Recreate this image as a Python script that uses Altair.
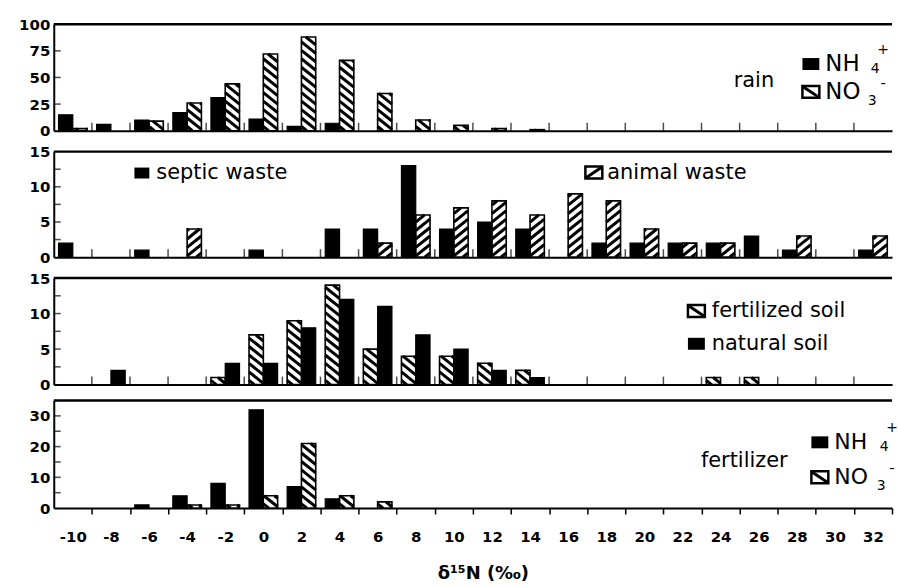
import altair as alt
import pandas as pd

# delta-15N class centres (permil)
bins = list(range(-10, 33, 2))

# number of samples per class
rain_nh4 = [15, 6, 10, 17, 31, 11, 4, 7, 0, 0, 0, 0, 0, 0, 0, 0, 0, 0, 0, 0, 0, 0]
rain_no3 = [2, 0, 9, 26, 44, 72, 88, 66, 35, 10, 5, 2, 1, 0, 0, 0, 0, 0, 0, 0, 0, 0]
septic_waste = [2, 0, 1, 0, 0, 1, 0, 4, 4, 13, 4, 5, 4, 0, 2, 2, 2, 2, 3, 1, 0, 1]
animal_waste = [0, 0, 0, 4, 0, 0, 0, 0, 2, 6, 7, 8, 6, 9, 8, 4, 2, 2, 0, 3, 0, 3]
fertilized_soil = [0, 0, 0, 0, 1, 7, 9, 14, 5, 4, 4, 3, 2, 0, 0, 0, 0, 1, 1, 0, 0, 0]
natural_soil = [0, 2, 0, 0, 3, 3, 8, 12, 11, 7, 5, 2, 1, 0, 0, 0, 0, 0, 0, 0, 0, 0]
fert_nh4 = [0, 0, 1, 4, 8, 32, 7, 3, 0, 0, 0, 0, 0, 0, 0, 0, 0, 0, 0, 0, 0, 0]
fert_no3 = [0, 0, 0, 1, 1, 4, 21, 4, 2, 0, 0, 0, 0, 0, 0, 0, 0, 0, 0, 0, 0, 0]

X_MIN, X_MAX = -11, 33
W = 842
HALF = 0.75          # width of one bar of a pair, in permil
KX = W / (X_MAX - X_MIN)
FONT = "DejaVu Sans"
ODD_TICKS = list(range(-9, 32, 2))
ONE = alt.Data(values=[{}])

xscale = alt.Scale(domain=[X_MIN, X_MAX], nice=False, zero=False)


def hatch_segments(x0, x1, v, ky, slant, period=8.5, slope=0.8):
    """Diagonal hatch lines clipped to the bar [x0, x1] x [0, v]."""
    w = (x1 - x0) * KX
    hmax = v * ky
    out = []
    if slant == "\\":
        c = period / 2
        while c < hmax + slope * w:
            xa = max(0.0, (c - hmax) / slope)
            xb = min(w, c / slope)
            if xb - xa > 0.3:
                out.append(dict(hx=x0 + xa / KX, hx2=x0 + xb / KX,
                                hy=(c - slope * xa) / ky, hy2=(c - slope * xb) / ky))
            c += period
    else:
        c = -slope * w + period / 2
        while c < hmax:
            xa = max(0.0, -c / slope)
            xb = min(w, (hmax - c) / slope)
            if xb - xa > 0.3:
                out.append(dict(hx=x0 + xa / KX, hx2=x0 + xb / KX,
                                hy=(c + slope * xa) / ky, hy2=(c + slope * xb) / ky))
            c += period
    return out


def txt(s, x, y, size=21, align="left", baseline="middle"):
    return alt.Chart(ONE).mark_text(
        text=s, font=FONT, fontSize=size, align=align, baseline=baseline, color="black"
    ).encode(x=alt.value(x), y=alt.value(y))


def solid_key(x, y, w=17, h=12):
    return alt.Chart(ONE).mark_rect(color="black").encode(
        x=alt.value(x), x2=alt.value(x + w), y=alt.value(y), y2=alt.value(y + h))


def hatch_key(x, y, slant, w=17, h=12):
    box = alt.Chart(ONE).mark_rect(fill="white", stroke="black", strokeWidth=2.5).encode(
        x=alt.value(x), x2=alt.value(x + w), y=alt.value(y), y2=alt.value(y + h))
    if slant == "\\":
        ya, yb = y + 1, y + h - 1
    else:
        ya, yb = y + h - 1, y + 1
    diag = alt.Chart(ONE).mark_rule(color="black", strokeWidth=3).encode(
        x=alt.value(x + 1), x2=alt.value(x + w - 1), y=alt.value(ya), y2=alt.value(yb))
    return box + diag


def ion_key(x, y_nh, y_no, size=22):
    """Legend rows for NH4+ (solid) and NO3- (hatched)."""
    return [
        solid_key(x, y_nh - 6), txt("NH", x + 23, y_nh, size),
        txt("4", x + 73, y_nh + 5, 14, "center"), txt("+", x + 81, y_nh - 14, 14, "center"),
        hatch_key(x, y_no - 6, "\\"), txt("NO", x + 23, y_no, size),
        txt("3", x + 70, y_no + 9, 14, "center"), txt("-", x + 81, y_no - 9, 15, "center"),
    ]


def panel(solid, hatched, hatch_first, slant, ymax, yvals, yminor, height, extras, bottom=False):
    ky = height / ymax
    yscale = alt.Scale(domain=[0, ymax], nice=False)
    yaxis = alt.Axis(values=yvals, ticks=False, labelPadding=4, domainWidth=2,
                     domainColor="black", labelFont=FONT, labelFontSize=15,
                     labelFontWeight="bold", labelColor="black", grid=False, title=None)
    if bottom:
        xaxis = alt.Axis(values=ODD_TICKS + [33], labelExpr="'' + (datum.value - 1)",
                         labelOffset=-KX, labelFlush=False, labelOverlap=False,
                         tickSize=6, tickWidth=1.5, tickColor="black", domainWidth=2,
                         domainColor="black", labelPadding=16, labelFont=FONT,
                         labelFontSize=15, labelFontWeight="bold", labelColor="black",
                         grid=False, title="δ¹⁵N (‰)", titleFont=FONT, titleFontSize=18,
                         titleFontWeight="bold", titleColor="black", titlePadding=20,
                         titleX=W / 2 + 10, titleAlign="center")
    else:
        xaxis = alt.Axis(labels=False, ticks=False, domainWidth=2, domainColor="black",
                         grid=False, title=None)

    rows = []
    segs = []
    for b, s, h in zip(bins, solid, hatched):
        hs, ss = (b - HALF, b) if hatch_first else (b, b - HALF)
        if s > 0:
            rows.append(dict(kind="solid", x0=ss, x1=ss + HALF, v=s, z=0))
        if h > 0:
            rows.append(dict(kind="hatch", x0=hs, x1=hs + HALF, v=h, z=0))
            segs += hatch_segments(hs, hs + HALF, h, ky, slant)
    df = pd.DataFrame(rows)

    X = lambda f: alt.X(f, type="quantitative", scale=xscale, axis=xaxis)
    Y = lambda f: alt.Y(f, type="quantitative", scale=yscale, axis=yaxis)

    base = alt.Chart(df)
    hatch_fill = base.transform_filter("datum.kind == 'hatch'").mark_rect(
        fill="white").encode(x=X("x0"), x2="x1", y=Y("v"), y2="z")
    lines = alt.Chart(pd.DataFrame(segs)).mark_rule(
        color="black", strokeWidth=3, strokeCap="butt").encode(
        x=X("hx"), x2="hx2", y=Y("hy"), y2="hy2")
    hatch_edge = base.transform_filter("datum.kind == 'hatch'").mark_rect(
        fill="white", fillOpacity=0, stroke="black", strokeWidth=1.6).encode(
        x=X("x0"), x2="x1", y=Y("v"), y2="z")
    solid_bars = base.transform_filter("datum.kind == 'solid'").mark_rect(
        color="black", stroke="black", strokeWidth=1.2).encode(
        x=X("x0"), x2="x1", y=Y("v"), y2="z")

    yticks = alt.Chart(pd.DataFrame({"t": yminor})).mark_tick(
        color="black", thickness=1.5, size=7).encode(y=Y("t"), x=alt.value(3.5))
    top = alt.Chart(ONE).mark_rule(color="black", strokeWidth=2.5).encode(
        x=alt.value(0), x2=alt.value(W), y=alt.value(0))

    layers = [hatch_fill, lines, hatch_edge, solid_bars, yticks, top]
    if not bottom:
        xticks = alt.Chart(pd.DataFrame({"t": ODD_TICKS})).mark_tick(
            color="black", thickness=1.5, size=8).encode(x=X("t"), y=alt.value(height - 4))
        layers.append(xticks)
    layers += extras
    return alt.layer(*layers).properties(width=W, height=height)


rain = panel(rain_nh4, rain_no3, False, "\\", 100, [0, 25, 50, 75, 100], [25, 50, 75], 107,
             [txt("rain", 683, 57, 21)] + ion_key(752, 40, 68, 23))
waste = panel(septic_waste, animal_waste, False, "/", 15, [0, 5, 10, 15],
              [2.5, 5, 7.5, 10, 12.5], 106, [
    solid_key(81, 16, 15, 11), txt("septic waste", 103, 21, 21),
    hatch_key(534, 15, "/"), txt("animal waste", 556, 21, 21),
])
soil = panel(natural_soil, fertilized_soil, True, "\\", 15, [0, 5, 10, 15],
             [2.5, 5, 7.5, 10, 12.5], 107, [
    hatch_key(637, 27, "\\"), txt("fertilized soil", 661, 33, 21),
    solid_key(637, 60), txt("natural soil", 661, 66, 21),
])
fert = panel(fert_nh4, fert_no3, False, "\\", 35, [0, 10, 20, 30],
             [5, 10, 15, 20, 25, 30], 108,
             [txt("fertilizer", 650, 61, 21)] + ion_key(761, 42, 77, 22), bottom=True)

chart = alt.vconcat(rain, waste, soil, fert, spacing=6).properties(
    padding={"left": 18, "top": 16, "right": 0, "bottom": 0}, background="white"
).configure_view(stroke=None)

chart.save("out.html", embed_options={"renderer": "svg", "actions": False})
